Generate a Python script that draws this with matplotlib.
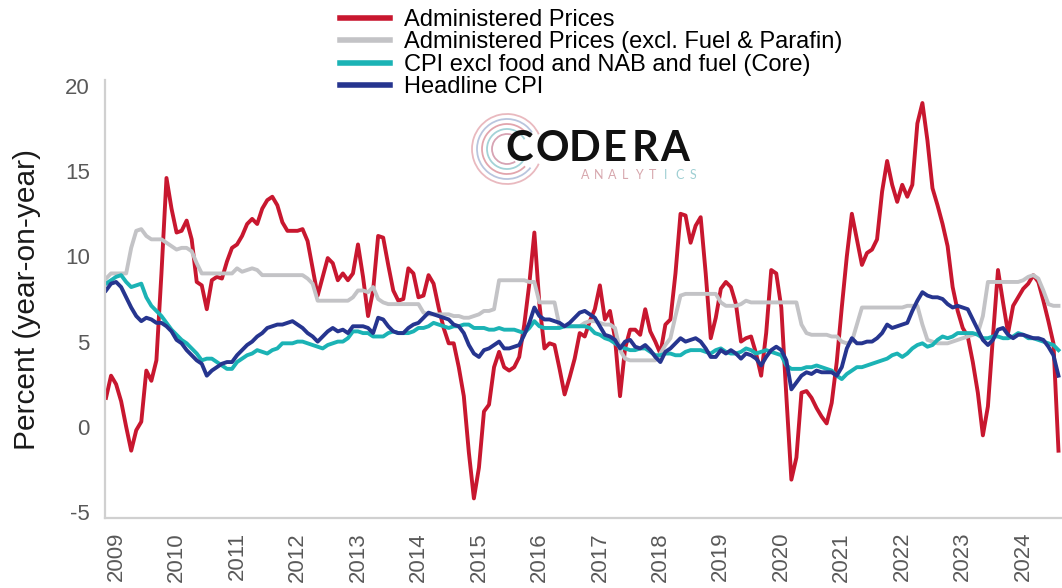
import numpy as np
import matplotlib.pyplot as plt
from matplotlib.lines import Line2D
from matplotlib.patches import Arc

# monthly data, Nov 2008 .. Aug 2024 (one row per calendar year)
start_year, start_month = 2008, 11

admin = [
    1.7, 3.0,
    2.5, 1.5, 0.0, -1.4, -0.2, 0.3, 3.3, 2.7, 3.9, 9.0, 14.6, 12.8,
    11.4, 11.5, 12.1, 11.0, 8.5, 8.3, 6.9, 8.6, 8.8, 8.7, 9.7, 10.5,
    10.7, 11.2, 11.9, 12.2, 11.9, 12.8, 13.3, 13.5, 13.0, 12.0, 11.5, 11.5,
    11.5, 11.6, 10.9, 9.3, 7.7, 8.8, 9.9, 9.6, 8.6, 9.0, 8.6, 9.0,
    10.7, 8.8, 6.5, 8.0, 11.2, 11.1, 9.5, 8.0, 7.4, 7.5, 9.3, 9.0,
    7.6, 7.7, 8.9, 8.4, 7.0, 5.8, 4.9, 4.9, 3.5, 1.8, -1.5, -4.2,
    -2.4, 0.9, 1.3, 3.5, 4.4, 3.5, 3.3, 3.5, 4.1, 6.0, 8.4, 11.4,
    7.2, 4.6, 4.9, 4.8, 3.4, 1.9, 2.9, 4.0, 5.5, 5.3, 6.2, 6.9,
    8.3, 6.3, 6.8, 5.2, 1.8, 4.6, 5.7, 5.7, 5.4, 6.9, 5.6, 5.0,
    4.3, 6.0, 6.3, 9.0, 12.5, 12.4, 10.8, 11.8, 12.3, 9.0, 5.2, 6.4,
    8.1, 8.5, 8.2, 7.2, 5.0, 5.2, 5.3, 4.3, 3.0, 5.5, 9.2, 9.0,
    7.0, 1.8, -3.1, -1.8, 2.0, 2.1, 1.7, 1.1, 0.6, 0.2, 1.4, 3.8,
    7.0, 10.0, 12.5, 11.0, 9.5, 10.2, 10.4, 11.0, 13.8, 15.6, 14.2, 13.2,
    14.2, 13.5, 14.2, 17.8, 19.0, 16.8, 14.0, 13.0, 11.9, 10.6, 8.2, 6.8,
    5.8, 5.3, 3.8, 2.0, -0.5, 1.2, 5.3, 9.2, 7.3, 5.5, 7.1, 7.6,
    8.1, 8.4, 8.9, 8.5, 7.4, 6.2, 4.9, -1.4,
]

admin_ex_fuel = [
    8.7, 9.0,
    9.0, 9.0, 9.0, 10.5, 11.5, 11.6, 11.2, 11.0, 11.0, 11.0, 10.8, 10.6,
    10.4, 10.5, 10.5, 10.3, 9.6, 9.0, 9.0, 9.0, 9.0, 9.0, 9.0, 9.0,
    9.3, 9.1, 9.2, 9.3, 9.2, 8.9, 8.9, 8.9, 8.9, 8.9, 8.9, 8.9,
    8.9, 8.9, 8.7, 8.4, 7.4, 7.4, 7.4, 7.4, 7.4, 7.4, 7.4, 7.6,
    8.0, 8.0, 7.9, 8.2, 7.5, 7.3, 7.2, 7.2, 7.2, 7.2, 7.2, 7.2,
    7.2, 6.7, 6.6, 6.6, 6.6, 6.6, 6.6, 6.5, 6.5, 6.4, 6.4, 6.5,
    6.6, 6.8, 6.8, 6.9, 8.6, 8.6, 8.6, 8.6, 8.6, 8.6, 8.5, 8.5,
    7.3, 7.3, 7.3, 7.3, 5.9, 5.9, 5.9, 5.9, 5.9, 6.1, 6.2, 6.2,
    6.1, 6.0, 6.0, 5.8, 4.5, 4.0, 3.9, 3.9, 3.9, 3.9, 3.9, 3.9,
    4.3, 4.8, 5.2, 6.5, 7.7, 7.8, 7.8, 7.8, 7.8, 7.8, 7.8, 7.8,
    7.3, 7.1, 7.1, 7.1, 7.2, 7.4, 7.3, 7.3, 7.3, 7.3, 7.3, 7.3,
    7.3, 7.3, 7.3, 7.3, 6.0, 5.5, 5.4, 5.4, 5.4, 5.4, 5.3, 5.3,
    5.0, 4.9, 5.0, 6.0, 7.0, 7.0, 7.0, 7.0, 7.0, 7.0, 7.0, 7.0,
    7.0, 7.1, 7.1, 7.1, 6.0, 5.1, 5.0, 4.9, 4.9, 4.9, 5.0, 5.1,
    5.2, 5.3, 5.4, 5.5, 6.5, 8.5, 8.5, 8.5, 8.5, 8.5, 8.5, 8.5,
    8.6, 8.8, 8.9, 8.7, 8.0, 7.2, 7.1, 7.1,
]

core_cpi = [
    8.4, 8.6,
    8.8, 8.9, 8.5, 8.2, 8.3, 8.4, 7.6, 7.1, 6.8, 6.5, 6.1, 5.7,
    5.4, 5.1, 4.9, 4.6, 4.3, 3.9, 4.0, 4.0, 3.8, 3.6, 3.4, 3.4,
    3.8, 4.0, 4.2, 4.3, 4.5, 4.4, 4.3, 4.5, 4.6, 4.9, 4.9, 4.9,
    5.0, 5.0, 4.9, 4.8, 4.7, 4.6, 4.8, 4.9, 5.0, 5.0, 5.2, 5.6,
    5.6, 5.5, 5.5, 5.3, 5.3, 5.3, 5.5, 5.6, 5.5, 5.5, 5.5, 5.6,
    5.8, 5.8, 5.9, 6.1, 6.0, 5.9, 5.8, 5.9, 5.9, 6.0, 6.0, 5.8,
    5.8, 5.8, 5.7, 5.7, 5.8, 5.7, 5.7, 5.7, 5.6, 5.5, 5.8, 6.2,
    5.9, 5.8, 5.8, 5.8, 5.8, 5.9, 5.9, 5.9, 5.9, 5.9, 5.8, 5.5,
    5.4, 5.2, 5.1, 4.9, 4.7, 4.6, 4.5, 4.5, 4.6, 4.6, 4.4, 4.2,
    4.2, 4.3, 4.3, 4.2, 4.2, 4.4, 4.5, 4.5, 4.5, 4.4, 4.3, 4.5,
    4.6, 4.4, 4.3, 4.3, 4.4, 4.6, 4.5, 4.3, 4.4, 4.5, 4.4, 4.3,
    4.2, 3.6, 3.4, 3.4, 3.4, 3.5, 3.5, 3.6, 3.5, 3.4, 3.3, 3.0,
    2.8, 3.1, 3.3, 3.5, 3.5, 3.6, 3.7, 3.8, 3.9, 4.0, 4.2, 4.3,
    4.1, 4.3, 4.6, 4.8, 4.9, 4.7, 4.8, 5.1, 5.3, 5.2, 5.3, 5.5,
    5.5, 5.5, 5.5, 5.4, 5.2, 5.2, 5.3, 5.3, 5.2, 5.2, 5.3, 5.5,
    5.4, 5.2, 5.2, 5.1, 5.0, 4.9, 4.8, 4.5,
]

headline_cpi = [
    8.0, 8.4,
    8.5, 8.2, 7.6, 7.0, 6.5, 6.2, 6.4, 6.3, 6.1, 6.1, 5.9, 5.6,
    5.1, 4.9, 4.5, 4.2, 3.9, 3.7, 3.0, 3.3, 3.5, 3.7, 3.8, 3.8,
    4.2, 4.5, 4.8, 5.0, 5.3, 5.5, 5.8, 5.9, 6.0, 6.0, 6.1, 6.2,
    6.0, 5.8, 5.5, 5.3, 5.0, 5.3, 5.6, 5.8, 5.6, 5.7, 5.5, 5.9,
    5.9, 5.9, 5.8, 5.5, 6.4, 6.3, 5.9, 5.6, 5.5, 5.5, 5.8, 6.0,
    6.1, 6.4, 6.7, 6.6, 6.5, 6.4, 6.3, 6.0, 5.9, 5.5, 4.8, 4.3,
    4.1, 4.5, 4.6, 4.8, 5.0, 4.6, 4.6, 4.7, 4.8, 5.4, 6.1, 7.0,
    6.5, 6.3, 6.3, 6.2, 6.1, 5.9, 6.1, 6.4, 6.7, 6.8, 6.6, 6.4,
    5.9, 5.4, 5.3, 5.1, 4.6, 5.0, 5.1, 4.7, 4.6, 4.8, 4.5, 4.1,
    3.8, 4.4, 4.6, 4.9, 5.2, 5.0, 5.1, 5.2, 5.0, 4.6, 4.1, 4.1,
    4.5, 4.3, 4.5, 4.3, 4.0, 4.3, 4.2, 4.0, 3.6, 4.1, 4.5, 4.7,
    4.5, 3.9, 2.2, 2.6, 3.0, 3.2, 3.1, 3.3, 3.2, 3.2, 3.2, 3.0,
    3.5, 4.6, 5.2, 4.9, 4.9, 5.0, 5.0, 5.2, 5.5, 6.0, 5.8, 5.9,
    6.0, 6.1, 6.8, 7.4, 7.9, 7.7, 7.6, 7.6, 7.5, 7.2, 7.0, 7.1,
    7.0, 6.9, 6.3, 5.7, 5.1, 4.8, 5.1, 5.7, 5.8, 5.4, 5.2, 5.4,
    5.4, 5.3, 5.2, 5.2, 5.1, 4.7, 4.2, 3.0,
]

series_labels = [
    "Administered Prices",
    "Administered Prices (excl. Fuel & Parafin)",
    "CPI excl food and NAB and fuel (Core)",
    "Headline CPI",
]
series_colors = ["#c8172f", "#c3c3c6", "#1bb3b5", "#26358f"]
year_ticks = list(range(2009, 2025))
y_ticks = [-5, 0, 5, 10, 15, 20]

n = len(admin)
t = start_year + (start_month - 1) / 12 + np.arange(n) / 12

plt.rcParams['font.family'] = ['Liberation Sans', 'DejaVu Sans']

fig = plt.figure(figsize=(10.62, 5.88), dpi=100)
ax = fig.add_axes([105 / 1062, 70 / 588, 957 / 1062, 438 / 588])

# draw in the same order as the legend, headline on top
for vals, col in zip([admin, admin_ex_fuel, core_cpi, headline_cpi], series_colors):
    ax.plot(t, vals, color=col, lw=2.8, solid_joinstyle='round')

ax.set_xlim(t[0] - 0.2 / 12, t[0] + 189.7 / 12)
ax.set_ylim(-5.35, 20.35)
ax.set_xticks(year_ticks)
ax.set_xticklabels([str(y) for y in year_ticks], rotation=90, fontsize=16, color='#595959')
ax.set_yticks(y_ticks)
ax.set_yticklabels([str(v) for v in y_ticks], fontsize=16, color='#595959')
ax.tick_params(axis='x', length=0, pad=10)
ax.tick_params(axis='y', length=0, pad=11)
for s in ['top', 'right']:
    ax.spines[s].set_visible(False)
for s in ['left', 'bottom']:
    ax.spines[s].set_color('#d0d0d0')
    ax.spines[s].set_linewidth(1.6)

fig.text(27 / 1062, 1 - 300 / 588, "Percent (year-on-year)", rotation=90,
         ha='center', va='center', fontsize=21.5, color='#1a1a1a')

handles = [Line2D([], [], color=c, lw=4) for c in series_colors]
fig.legend(handles, series_labels, loc='upper left',
           bbox_to_anchor=(340 / 1062, 1 - 9 / 588), frameon=False,
           fontsize=17, borderpad=0, borderaxespad=0, labelspacing=0.02,
           handlelength=2.1, handletextpad=0.62)

# logo
logo_letters = "CODERA"
letter_x = [519, 552, 585, 615, 645, 675]
for ch, lx in zip(logo_letters, letter_x):
    fig.text(lx / 1062, 1 - 149 / 588, ch, fontsize=30, fontweight='bold',
             family='Lato', color='#111111', va='center', ha='center')
sub_letters = "ANALYTICS"
for i, ch in enumerate(sub_letters):
    fig.text((585 + i * 13.5) / 1062, 1 - 175 / 588, ch, fontsize=9,
             family='Lato', color=['#d7a7ad', '#9fcfd3'][i > 5],
             va='center', ha='center')
cx, cy = 507, 149
for r, col, a0, a1 in [(35, '#e9b9bf', 40, 320), (30, '#b9c5de', 50, 305),
                       (25, '#e2a5ad', 60, 300), (20, '#a3d2d7', 45, 315),
                       (15, '#d7a3b3', 70, 290)]:
    arc = Arc((cx / 1062, 1 - cy / 588), 2 * r / 1062, 2 * r / 588,
              theta1=a0, theta2=a1, color=col, lw=1.3, transform=fig.transFigure)
    fig.add_artist(arc)

fig.savefig("out.png", dpi=100)
